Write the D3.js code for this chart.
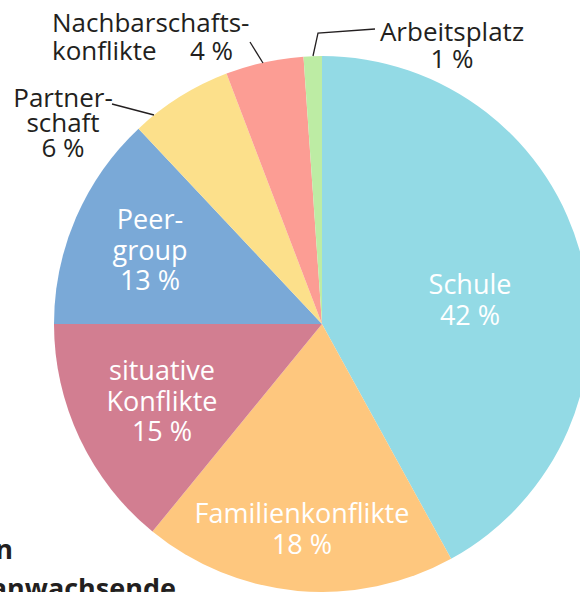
<!DOCTYPE html>
<html>
<head>
<meta charset="utf-8">
<script src="https://cdn.jsdelivr.net/npm/d3@7"></script>
<style>
  html, body { margin: 0; padding: 0; background: #fff; overflow: hidden; }
  svg { display: block; font-family: "Open Sans", sans-serif; }
</style>
</head>
<body>
<div id="chart-container"></div>
<script>
// Anteile in Prozent (Winkel aus dem Bild gelesen), beschriftete Werte
const categories = ['Schule', 'Familienkonflikte', 'situative Konflikte', 'Peergroup', 'Partnerschaft', 'Nachbarschaftskonflikte', 'Arbeitsplatz'];
const shares = [42.0, 18.9, 14.1, 13.0, 6.2, 4.7, 1.1];
const printed = [42, 18, 15, 13, 6, 4, 1];
const labelLines = [
  ['Schule'],
  ['Familienkonflikte'],
  ['situative', 'Konflikte'],
  ['Peer-', 'group'],
  ['Partner-', 'schaft'],
  ['Nachbarschafts-', 'konflikte'],
  ['Arbeitsplatz']
];
const colors = ['#93dae5', '#fec77e', '#d27e91', '#7aa9d7', '#fce08b', '#fc9d94', '#bdeca4'];

const width = 580, height = 592;
const cx = 322, cy = 324, radius = 268;

const svg = d3.select('#chart-container')
  .append('svg')
  .attr('width', width)
  .attr('height', height);

const g = svg.append('g').attr('transform', `translate(${cx}, ${cy})`);

const data = categories.map((c, i) => ({ name: c, value: shares[i], pct: printed[i], lines: labelLines[i], color: colors[i] }));

const pie = d3.pie().sort(null).value(d => d.value);
const arc = d3.arc().innerRadius(0).outerRadius(radius);
const arcs = pie(data);

g.selectAll('.slice')
  .data(arcs)
  .enter()
  .append('path')
  .attr('class', 'slice')
  .attr('d', arc)
  .attr('fill', d => d.data.color);

// Beschriftung in den großen Segmenten (erste Grundlinie relativ zum Kreismittelpunkt)
const inside = {
  'Schule': [148, -30],
  'Familienkonflikte': [-20, 199],
  'situative Konflikte': [-160, 56],
  'Peergroup': [-172, -95]
};
const lineH = 30.5;

arcs.filter(a => inside[a.data.name]).forEach(a => {
  const [x, y] = inside[a.data.name];
  const lines = a.data.lines.concat([a.data.pct + ' %']);
  const t = g.append('text')
    .attr('text-anchor', 'middle')
    .attr('fill', '#fff')
    .attr('font-size', 27);
  lines.forEach((l, i) => {
    t.append('tspan')
      .attr('x', x)
      .attr('y', y + i * lineH)
      .text(l);
  });
});

// Kleine Segmente: Text außen mit Hinweislinie
const outside = {
  'Partnerschaft': { x: -259, y: -217, anchor: 'middle', leader: [[-210, -220], [-168, -209]] },
  'Nachbarschaftskonflikte': { x: -270, y: -292, anchor: 'start', leader: [[-72, -282], [-59, -261]] },
  'Arbeitsplatz': { x: 130, y: -283, anchor: 'middle', leader: [[53, -295], [-4, -291], [-9, -268]] }
};

arcs.filter(a => outside[a.data.name]).forEach(a => {
  const o = outside[a.data.name];
  g.append('path')
    .attr('d', d3.line()(o.leader))
    .attr('fill', 'none')
    .attr('stroke', '#231f20')
    .attr('stroke-width', 1.3);

  const t = g.append('text')
    .attr('text-anchor', o.anchor)
    .attr('fill', '#231f20')
    .attr('font-size', 26);
  if (a.data.name === 'Nachbarschaftskonflikte') {
    t.append('tspan').attr('x', o.x).attr('y', o.y).text(a.data.lines[0]);
    t.append('tspan').attr('x', o.x).attr('y', o.y + 28).text(a.data.lines[1]);
    g.append('text')
      .attr('text-anchor', 'end')
      .attr('fill', '#231f20')
      .attr('font-size', 26)
      .attr('x', -89)
      .attr('y', o.y + 28)
      .text(a.data.pct + ' %');
  } else {
    const lines = a.data.lines.concat([a.data.pct + ' %']);
    const step = a.data.name === 'Arbeitsplatz' ? 27 : 25;
    lines.forEach((l, i) => {
      t.append('tspan')
        .attr('x', o.x)
        .attr('y', o.y + i * step)
        .text(l);
    });
  }
});

// angeschnittener Text vom Seitenrand
svg.append('text')
  .attr('x', 13)
  .attr('y', 559)
  .attr('text-anchor', 'end')
  .attr('font-size', 27)
  .attr('font-weight', 700)
  .attr('fill', '#231f20')
  .text('n');

svg.append('text')
  .attr('x', 176)
  .attr('y', 598)
  .attr('text-anchor', 'end')
  .attr('font-size', 27)
  .attr('font-weight', 700)
  .attr('fill', '#231f20')
  .text('Heranwachsende');
</script>
</body>
</html>
